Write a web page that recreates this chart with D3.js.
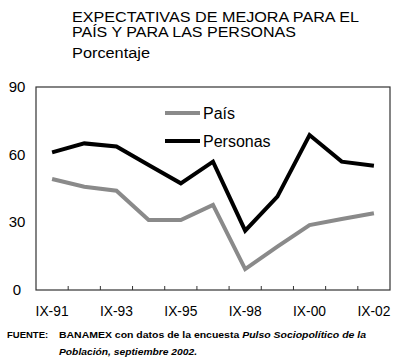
<!DOCTYPE html>
<html lang="es">
<head>
<meta charset="utf-8">
<title>Expectativas de mejora</title>
<script src="https://d3js.org/d3.v7.min.js"></script>
<style>
  body { margin: 0; background: #fff; }
  svg text { font-family: "Liberation Sans", Arial, sans-serif; fill: #000; }
</style>
</head>
<body>
<svg id="chart" width="400" height="364"></svg>
<script>
// data
var periods = ['IX-91', 'IX-92', 'IX-93', 'IX-94', 'IX-95', 'IX-97', 'IX-98', 'IX-99', 'IX-00', 'IX-01', 'IX-02'];
var pais = [49.2, 45.8, 44.0, 31.0, 31.0, 37.7, 9.3, 19.2, 28.8, 31.5, 34.0];
var personas = [61.0, 65.0, 63.6, 55.4, 47.3, 56.9, 26.3, 41.4, 68.7, 56.9, 55.1];
var shownLabels = ['IX-91', 'IX-93', 'IX-95', 'IX-98', 'IX-00', 'IX-02'];
var yTicks = [0, 30, 60, 90];

function draw() {
    var svg = d3.select('#chart');
    var m = {left: 36, right: 390, top: 87, bottom: 290};

    var x = d3.scalePoint().domain(periods).range([m.left, m.right]).padding(0.5);
    var xb = d3.scaleBand().domain(periods).range([m.left, m.right]);
    var y = d3.scaleLinear().domain([0, 90]).range([m.bottom, m.top]);

    // titles
    var title = svg.append('g').style('font-size', '14px');
    title.append('text').attr('x', 72).attr('y', 22)
        .attr('textLength', 287).attr('lengthAdjust', 'spacingAndGlyphs')
        .text('EXPECTATIVAS DE MEJORA PARA EL');
    title.append('text').attr('x', 72).attr('y', 37)
        .attr('textLength', 224).attr('lengthAdjust', 'spacingAndGlyphs')
        .text('PAÍS Y PARA LAS PERSONAS');
    title.append('text').attr('x', 72).attr('y', 58)
        .attr('textLength', 78).attr('lengthAdjust', 'spacingAndGlyphs')
        .text('Porcentaje');

    // frame
    svg.append('rect').attr('x', m.left).attr('y', m.top)
        .attr('width', m.right - m.left).attr('height', m.bottom - m.top)
        .attr('fill', 'none').attr('stroke', '#333').attr('stroke-width', 1.2);

    // y labels
    svg.selectAll('.ylab').data(yTicks).enter().append('text')
        .attr('class', 'ylab')
        .attr('x', 17).attr('y', function (d) { return y(d) + 5; })
        .attr('text-anchor', 'middle').style('font-size', '15px')
        .text(function (d) { return d; });

    // x ticks between bands
    svg.selectAll('.xtick').data(periods.slice(1)).enter().append('line')
        .attr('class', 'xtick')
        .attr('x1', function (d) { return xb(d); }).attr('x2', function (d) { return xb(d); })
        .attr('y1', m.bottom).attr('y2', m.bottom - 4)
        .attr('stroke', '#333').attr('stroke-width', 1);

    svg.selectAll('.xlab').data(shownLabels).enter().append('text')
        .attr('class', 'xlab')
        .attr('x', function (d) { return x(d) - 16.5; }).attr('y', 316)
        .attr('textLength', 33).attr('lengthAdjust', 'spacingAndGlyphs')
        .style('font-size', '15px')
        .text(function (d) { return d; });

    // lines
    var line = d3.line()
        .x(function (d, i) { return x(periods[i]); })
        .y(function (d) { return y(d); });

    svg.append('path').datum(pais).attr('d', line)
        .attr('fill', 'none').attr('stroke', '#8a8a8a').attr('stroke-width', 4);
    svg.append('path').datum(personas).attr('d', line)
        .attr('fill', 'none').attr('stroke', '#000').attr('stroke-width', 4);

    // legend
    var legend = [{name: 'País', color: '#8a8a8a', y: 113}, {name: 'Personas', color: '#000', y: 141}];
    var lg = svg.selectAll('.lg').data(legend).enter().append('g').attr('class', 'lg');
    lg.append('line').attr('x1', 165).attr('x2', 200)
        .attr('y1', function (d) { return d.y; }).attr('y2', function (d) { return d.y; })
        .attr('stroke', function (d) { return d.color; }).attr('stroke-width', 4);
    lg.append('text').attr('x', 203).attr('y', function (d) { return d.y + 6; })
        .style('font-size', '16px').text(function (d) { return d.name; });

    // source
    var src = svg.append('g').style('font-size', '9.5px').style('font-weight', 'bold');
    src.append('text').attr('x', 7).attr('y', 338).text('FUENTE:');
    var l1 = src.append('text').attr('x', 59).attr('y', 338)
        .attr('textLength', 307).attr('lengthAdjust', 'spacingAndGlyphs');
    l1.append('tspan').text('BANAMEX con datos de la encuesta ');
    l1.append('tspan').style('font-style', 'italic').text('Pulso Sociopolítico de la');
    src.append('text').attr('x', 59).attr('y', 355).style('font-style', 'italic')
        .attr('textLength', 138).attr('lengthAdjust', 'spacingAndGlyphs')
        .text('Población, septiembre 2002.');
}

draw();
</script>
</body>
</html>
